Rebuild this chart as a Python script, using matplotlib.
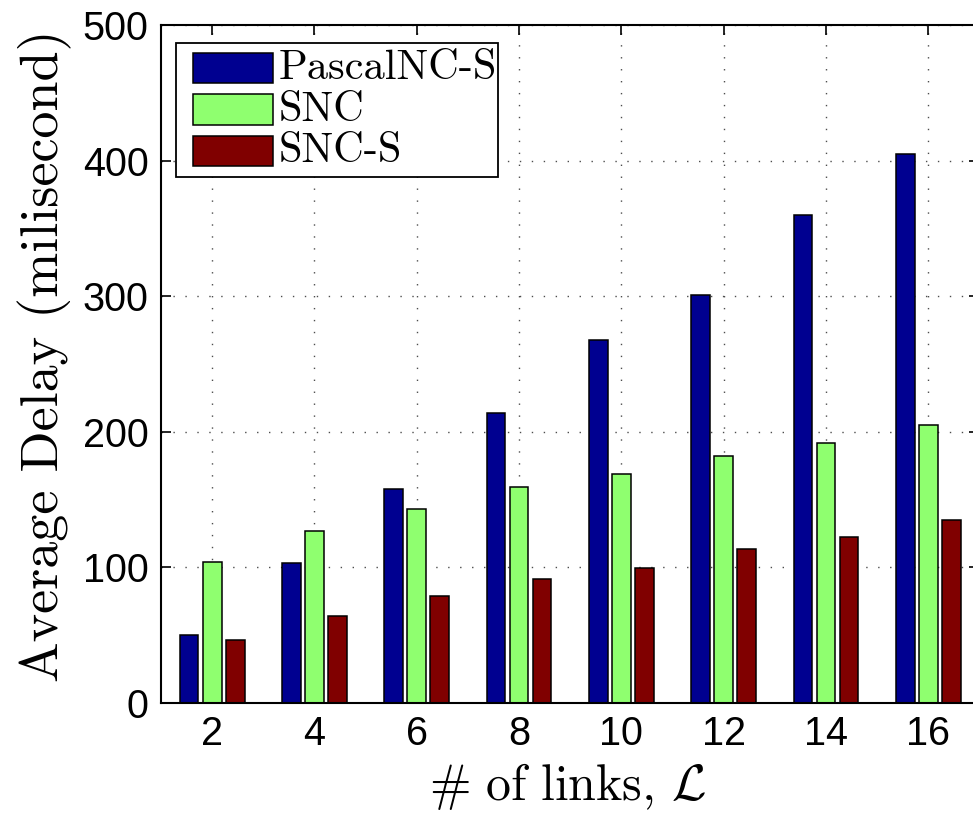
import matplotlib
matplotlib.use('Agg')
import matplotlib.pyplot as plt
import matplotlib.patches as ptc
import numpy as np

plt.rcParams['mathtext.fontset'] = 'cm'

# data
links = [2, 4, 6, 8, 10, 12, 14, 16]
pascal_ncs = [50, 103, 158, 214, 268, 301, 360, 405]
snc = [104, 127, 143, 159, 169, 182, 192, 205]
snc_s = [46, 64, 79, 91, 99, 113, 122, 135]
series_names = ['PascalNC-S', 'SNC', 'SNC-S']
series_colors = ['#000090', '#8fff6f', '#800000']

W, H = 973, 813
fig = plt.figure(figsize=(W / 100, H / 100), dpi=100)
ax = fig.add_axes([161 / W, (H - 702.5) / H, (979.4 - 161) / W, (702.5 - 25.5) / H])

idx = np.arange(1, len(links) + 1)
off = 0.225
wid = 0.183
for k, vals in enumerate([pascal_ncs, snc, snc_s]):
    ax.bar(idx + (k - 1) * off, vals, width=wid, color=series_colors[k],
           edgecolor='black', linewidth=1.1, zorder=2)

ax.set_xlim(0.5, 8.5)
ax.set_ylim(0, 500)
ax.set_xticks(idx)
ax.set_xticklabels([str(v) for v in links])
ax.set_yticks([0, 100, 200, 300, 400, 500])
ax.tick_params(direction='in', length=7, width=1.2, top=True, right=True,
               labelsize=28.5, pad=9)
for lab in ax.get_xticklabels() + ax.get_yticklabels():
    lab.set_family('Liberation Sans')
for s in ax.spines.values():
    s.set_linewidth(1.5)
ax.set_axisbelow(True)
ax.grid(True, linestyle=(0, (1, 7.6)), color='0.3', linewidth=1.0)

ax.set_ylabel('Average Delay (milisecond)', fontfamily='cmr10', fontsize=39)
ax.yaxis.set_label_coords((45 - 161) / 818.4, (702.5 - 356) / 677)
ax.yaxis.label.set_va('center')
ax.set_xlabel(r'$\#\ \mathrm{of\ links,}\,\mathcal{L}$', fontsize=36)
ax.xaxis.set_label_coords((568 - 161) / 818.4, (702.5 - 786) / 677)
ax.xaxis.label.set_va('center')


def fx(x):
    return x / W


def fy(y):
    return 1 - y / H


# legend box drawn by hand to match the tight MATLAB layout
frame = ptc.Rectangle((fx(176), fy(176.7)), fx(498) - fx(176), fy(42.7) - fy(176.7),
                      transform=fig.transFigure, facecolor='white', edgecolor='black',
                      linewidth=1.3, zorder=5)
fig.patches.append(frame)
tops = [52.7, 94.3, 136]
for k in range(3):
    r = ptc.Rectangle((fx(192.7), fy(tops[k] + 30.5)), fx(273) - fx(192.7), fy(tops[k]) - fy(tops[k] + 30.5),
                      transform=fig.transFigure, facecolor=series_colors[k], edgecolor='black',
                      linewidth=1.1, zorder=6)
    fig.patches.append(r)
    fig.text(fx(279), fy(tops[k] + 15.5), series_names[k], fontfamily='cmr10', fontsize=30.5,
             va='center', ha='left', zorder=7)

fig.savefig('out.png', dpi=100)
